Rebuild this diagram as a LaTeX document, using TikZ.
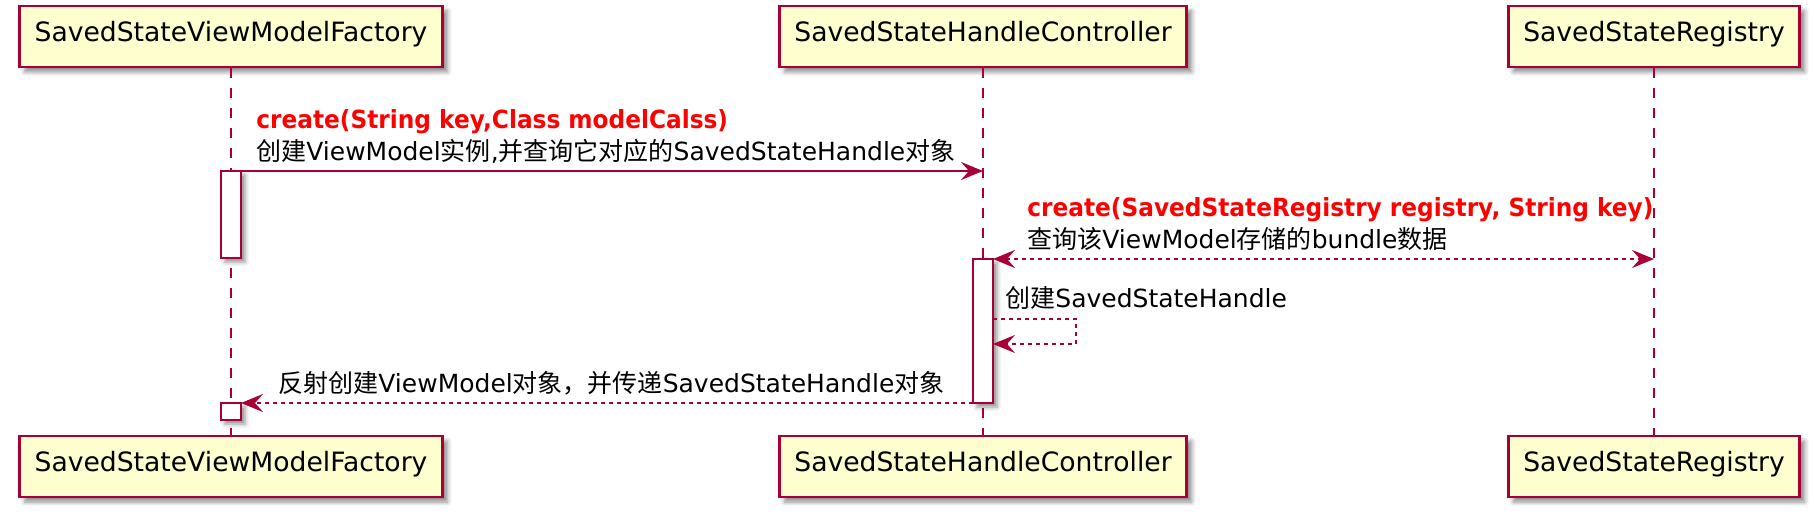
\documentclass[tikz,border=0pt]{standalone}
\usepackage{fontspec}
\setmainfont{DejaVu Sans}
\newfontfamily\cjk{Noto Sans CJK SC}
\newfontfamily\callfont{DejaVu Sans Bold}[FakeStretch=0.93]
\usetikzlibrary{arrows.meta,shadows.blur}

\definecolor{umlred}{HTML}{A80036}
\definecolor{umlfill}{HTML}{FEFECE}
\newcommand{\zh}[1]{{\cjk #1}}
\newcommand{\call}[1]{{\callfont\color{red}#1}}

\tikzset{
  actor/.style={draw=umlred, fill=umlfill, line width=1.3pt, minimum height=30.5pt,
    inner xsep=7.5pt, text height=0.75em, text depth=0.22em, font=\fontsize{13.3}{16}\selectfont,
    blur shadow={shadow xshift=2.5pt, shadow yshift=-2.5pt, shadow blur steps=4, shadow opacity=45}},
  lifeline/.style={umlred, line width=1pt, dash pattern=on 5pt off 5pt},
  activ/.style={draw=umlred, fill=white, line width=1pt, minimum width=10pt, inner sep=0pt, outer sep=0pt,
    blur shadow={shadow xshift=2pt, shadow yshift=-2pt, shadow blur steps=3, shadow opacity=45}},
  msg/.style={umlred, line width=1pt, ->},
  reply/.style={msg, dash pattern=on 2pt off 2pt},
  lbl/.style={anchor=base west, inner sep=0pt, font=\fontsize{12.5}{16}\selectfont},
}

\begin{document}
\begin{tikzpicture}[x=0.5pt, y=-0.5pt, >={Stealth[length=11pt, width=9pt, inset=4pt]}]
    \useasboundingbox (0,0) rectangle (1815,517);

    % Participants, top and bottom
    \node[actor] (fac) at (231,36.5) {SavedStateViewModelFactory};
    \node[actor] (ctl) at (983,36.5) {SavedStateHandleController};
    \node[actor] (reg) at (1654,36.5) {SavedStateRegistry};
    \node[actor] (facb) at (231,466.5) {SavedStateViewModelFactory};
    \node[actor] (ctlb) at (983,466.5) {SavedStateHandleController};
    \node[actor] (regb) at (1654,466.5) {SavedStateRegistry};

    % Lifelines
    \draw[lifeline] (fac.south) -- (facb.north);
    \draw[lifeline] (ctl.south) -- (ctlb.north);
    \draw[lifeline] (reg.south) -- (regb.north);

    % Activations
    \node[activ, minimum height=43.5pt] (act1) at (231,214.5) {};
    \node[activ, minimum height=72pt] (act2) at (983,331) {};
    \node[activ, minimum height=8.5pt] (act3) at (231,411.5) {};

    % create() on the controller
    \draw[msg] (act1.north east) -- (act1.north east -| ctl.south);
    \node[lbl] (m1a) at (256,129) {\call{create(String key,Class modelCalss)}};
    \node[lbl] (m1b) at (256,161) {\zh{创建}ViewModel\zh{实例},\zh{并查询它对应的}SavedStateHandle\zh{对象}};

    % query the registry
    \draw[reply, <->] (act2.north east) -- (act2.north east -| reg.south);
    \node[lbl] (m2a) at (1027,217) {\call{create(SavedStateRegistry registry, String key)}};
    \node[lbl] (m2b) at (1027,249) {\zh{查询该}ViewModel\zh{存储的}bundle\zh{数据}};

    % self call
    \draw[reply] (act2.north east) ++(0,60) -- ++(83,0) -- ++(0,25) -- ++(-83,0);
    \node[lbl] (m3) at (1005,308) {\zh{创建}SavedStateHandle};

    % back to the factory
    \draw[reply] (act2.south west) -- (act3.north east);
    \node[lbl] (m4) at (278,393) {\zh{反射创建}ViewModel\zh{对象，并传递}SavedStateHandle\zh{对象}};
\end{tikzpicture}
\end{document}
